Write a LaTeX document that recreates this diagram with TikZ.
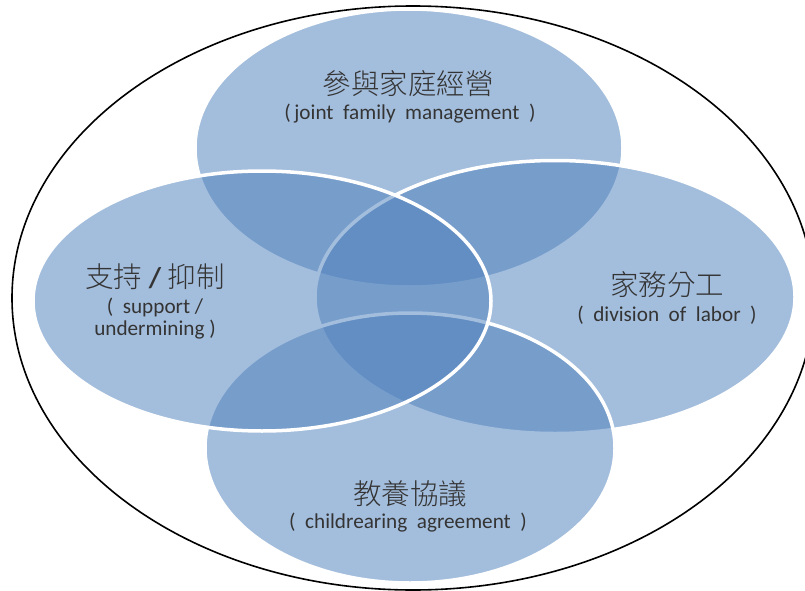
\documentclass[tikz,border=0pt]{standalone}
\usepackage{fontspec}
\setmainfont{Carlito}
\IfFontExistsTF{Noto Sans CJK TC Light}
  {\newfontfamily\cjk{Noto Sans CJK TC Light}}
  {\newfontfamily\cjk{Noto Sans CJK TC}}
\usetikzlibrary{shapes.geometric}
\definecolor{vennblue}{RGB}{79,129,189}
\definecolor{txt}{RGB}{52,52,52}

\begin{document}
\begin{tikzpicture}[x=1pt,y=-1pt,
  venn/.style={ellipse, inner sep=0pt, outer sep=0pt, fill=vennblue,
    fill opacity=0.52, draw=white, line width=3.5pt},
  zh/.style={font=\cjk\fontsize{28.5}{32}\selectfont, text=txt, inner sep=0pt},
  en/.style={font=\fontsize{21.2}{22}\selectfont, text=txt, align=center, inner sep=0pt}]
\useasboundingbox (0,0) rectangle (805,591);
\fill[white] (0,0) rectangle (805,591);

% outer frame
\node[draw=black, line width=1.6pt, ellipse, inner sep=0pt,
  minimum width=802pt, minimum height=584pt] (frame) at (413,298) {};

% the four overlapping sets, in stacking order
\node[venn, minimum width=428pt, minimum height=278pt] (jfm) at (409,148) {};
\node[venn, minimum width=480pt, minimum height=273pt] (dol) at (555,297) {};
\node[venn, minimum width=410pt, minimum height=270pt] (cra) at (410,448) {};
\node[venn, minimum width=458pt, minimum height=260pt] (sup) at (262,301) {};

% labels
\node[zh] (jfm-zh) at (408,84) {參與家庭經營};
\node[en] (jfm-en) at (410,114) {(\,joint\ \ family\ \ management\ \ )};

\node[zh] (sup-zh) at (155,277) {支持{\rmfamily\bfseries\ /\ }抑制};
\node[en] (sup-en) at (155,319) {(\ \ support /\\undermining )};

\node[zh] (dol-zh) at (667,285) {家務分工};
\node[en] (dol-en) at (667,315) {(\ \ division\ \ of\ \ labor\ \ )};

\node[zh] (cra-zh) at (410,494) {教養協議};
\node[en] (cra-en) at (408,523) {(\ \ childrearing\ \ agreement\ \ )};
\end{tikzpicture}
\end{document}
